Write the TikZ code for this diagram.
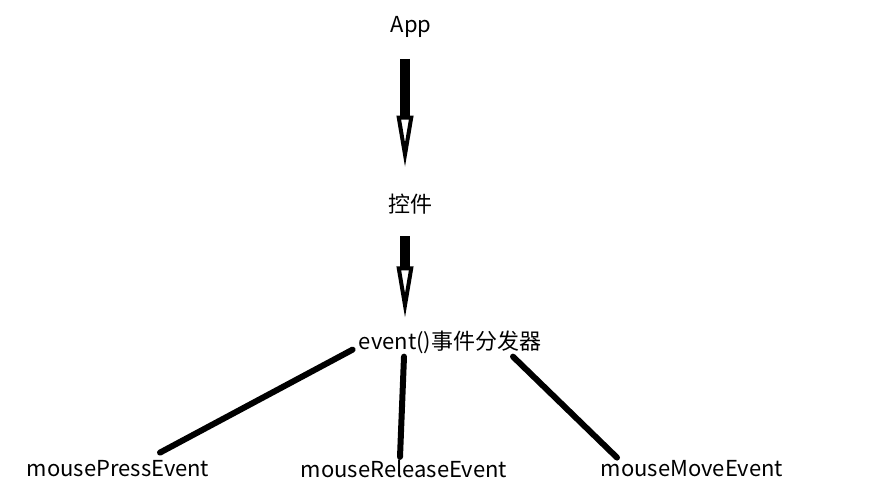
\documentclass[tikz,border=0pt]{standalone}
\usepackage{fontspec}
\setmainfont{Noto Sans CJK SC}
\usetikzlibrary{arrows.meta}
\tikzset{
  lbl/.style={inner sep=0pt, font=\fontsize{22}{26}\selectfont},
  bigarrow/.style={line width=10pt, -{Triangle[open, length=52pt, width=16pt, line width=4pt]}},
  link/.style={line width=6pt, line cap=round}
}
\begin{document}
\begin{tikzpicture}[x=1pt, y=-1pt]
    \useasboundingbox[fill=white] (0,0) rectangle (882,501);

    \node[lbl] (app) at (411,27) {App};
    \node[lbl] (ctl) at (410,204) {控件};
    \node[lbl] (ev) at (450,342) {event()事件分发器};

    \node[lbl] (press) at (118,469) {mousePressEvent};
    \node[lbl] (release) at (404,469) {mouseReleaseEvent};
    \node[lbl] (move) at (692,469) {mouseMoveEvent};

    % app -> widget -> dispatcher
    \draw[bigarrow] ([xshift=-6pt, yshift=-21pt]app.south) -- ([xshift=-5pt, yshift=26pt]ctl.north);
    \draw[bigarrow] ([xshift=-5pt, yshift=-22pt]ctl.south) -- ([xshift=-45pt, yshift=12pt]ev.north);

    % dispatcher -> handlers
    \draw[link] ([xshift=-6pt, yshift=4pt]ev.south west) -- ([xshift=42pt, yshift=8pt]press.north);
    \draw[link] ([xshift=-46pt, yshift=-3pt]ev.south) -- ([xshift=-4pt, yshift=3pt]release.north);
    \draw[link] ([xshift=63pt, yshift=-3pt]ev.south) -- ([xshift=-75pt, yshift=3pt]move.north);
\end{tikzpicture}
\end{document}
